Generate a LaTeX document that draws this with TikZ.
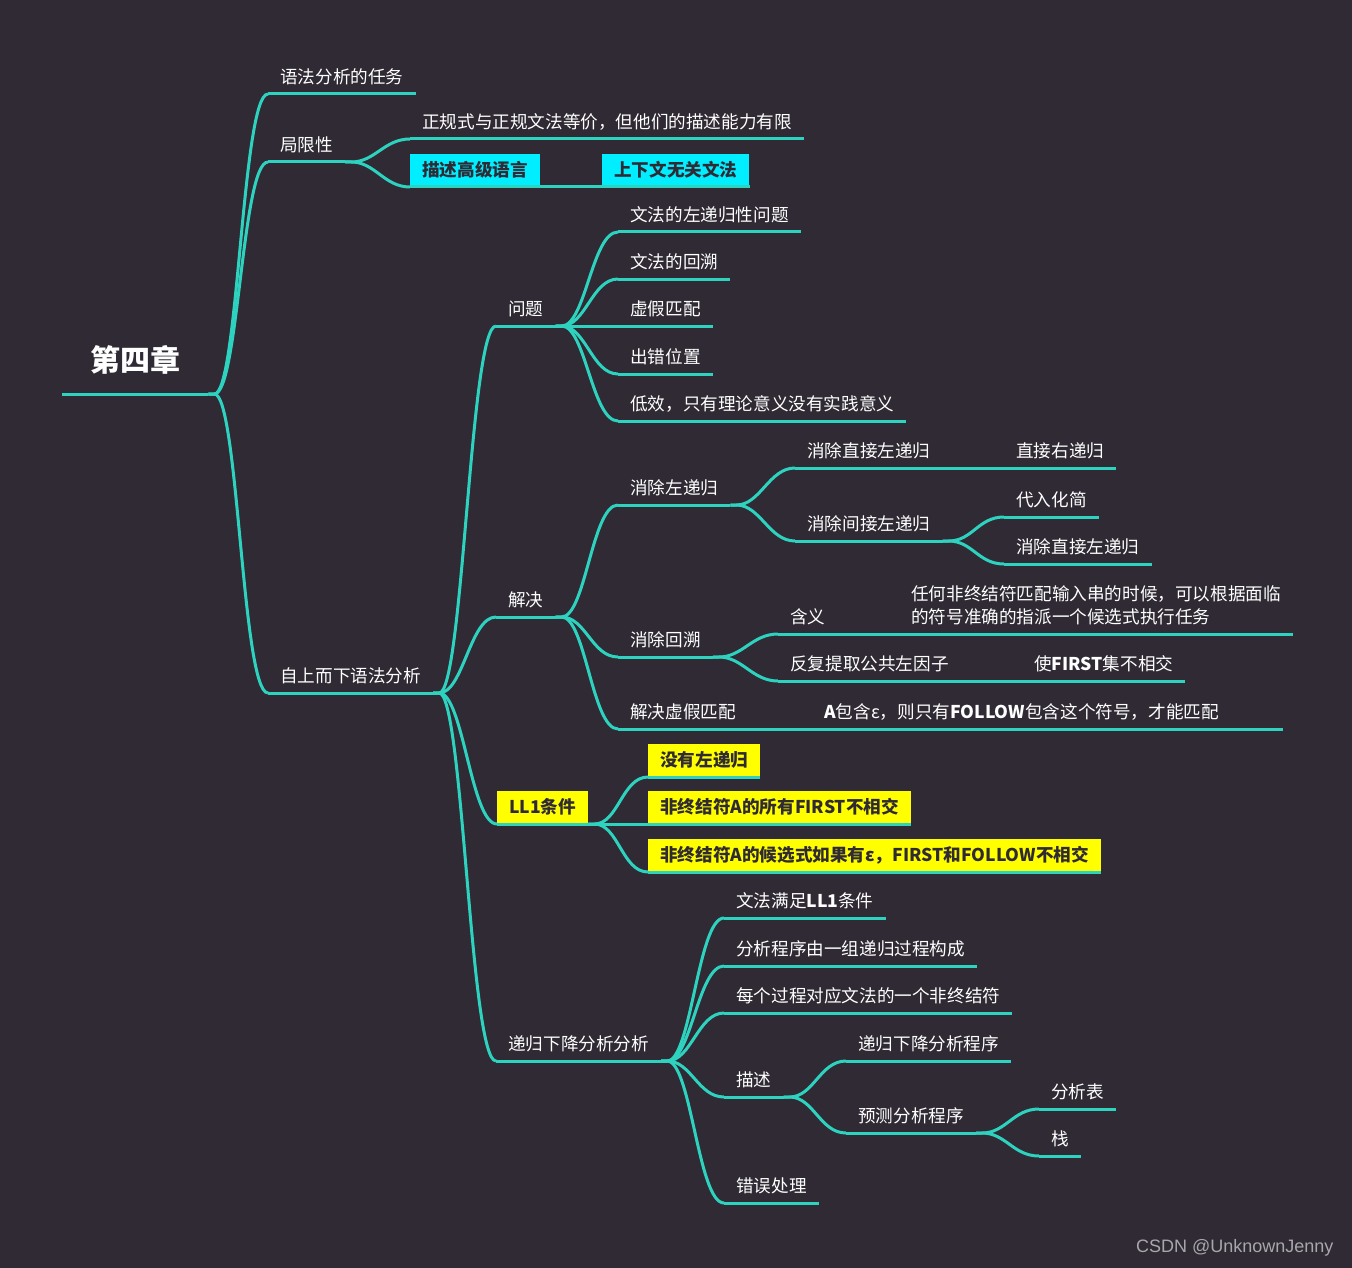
\documentclass[tikz,border=0pt]{standalone}
\usepackage{fontspec}
\setmainfont{Noto Sans CJK SC}
\newfontfamily\markfont{Liberation Sans}
\definecolor{bgdark}{HTML}{2F2A34}
\definecolor{mapline}{HTML}{2ED3BF}
\definecolor{boxcyan}{HTML}{00EEFF}
\definecolor{boxyellow}{HTML}{FFFF00}
\definecolor{boxtext}{HTML}{2F2A34}
\definecolor{marktext}{HTML}{A8A8AC}

\begin{document}
\begin{tikzpicture}[
  x=1pt, y=-1pt,
  topic/.style={anchor=south west, inner xsep=12pt, inner ysep=8pt, text height=15pt, text depth=2pt,
    text=white, font=\fontsize{17.6}{23}\selectfont},
  tagbox/.style={topic, fill=#1, text=boxtext, font=\fontsize{17.6}{23}\selectfont\bfseries},
  note/.style={anchor=south west, inner xsep=12pt, inner ysep=8.5pt, align=left,
    text=white, font=\fontsize{17.6}{23}\selectfont},
  rootnode/.style={anchor=south west, inner xsep=28pt, inner ysep=19pt, text height=26pt, text depth=3pt,
    text=white, font=\fontsize{30}{36}\selectfont\bfseries},
  branch/.style={draw=mapline, line width=3pt},
]
\fill[bgdark] (0,0) rectangle (1352,1268);
\useasboundingbox (0,0) rectangle (1352,1268);

% === root ===
\node[rootnode] (root) at (62,394) {第四章};

% === first level ===
\node[topic] (task) at (268,94) {语法分析的任务};
\node[topic] (limit) at (268,162) {局限性};
\node[topic] (topdown) at (268,693) {自上而下语法分析};

% === 局限性 ===
\node[topic] (regular) at (410,139) {正规式与正规文法等价，但他们的描述能力有限};
\node[tagbox=boxcyan] (highlevel) at (410,187) {描述高级语言};
\node[tagbox=boxcyan] (cfg) at (602,187) {上下文无关文法};

% === 问题 ===
\node[topic] (problem) at (496,326) {问题};
\node[topic] (p1) at (618,232) {文法的左递归性问题};
\node[topic] (p2) at (618,279) {文法的回溯};
\node[topic] (p3) at (618,326) {虚假匹配};
\node[topic] (p4) at (618,374) {出错位置};
\node[topic] (p5) at (618,421) {低效，只有理论意义没有实践意义};

% === 解决 ===
\node[topic] (solve) at (496,617) {解决};
\node[topic] (leftrec) at (618,505) {消除左递归};
\node[topic] (direct) at (795,468) {消除直接左递归};
\node[topic] (rightrec) at (1004,468) {直接右递归};
\node[topic] (indirect) at (795,541) {消除间接左递归};
\node[topic] (subst) at (1004,517) {代入化简};
\node[topic] (direct2) at (1004,564) {消除直接左递归};
\node[topic] (backtrack) at (618,657) {消除回溯};
\node[topic] (meaning) at (778,634) {含义};
\node[note] (meaningtext) at (899,634) {任何非终结符匹配输入串的时候，可以根据面临\\的符号准确的指派一个候选式执行任务};
\node[topic] (factor) at (778,681) {反复提取公共左因子};
\node[topic] (disjoint) at (1022,681) {使\textbf{FIRST}集不相交};
\node[topic] (fake) at (618,729) {解决虚假匹配};
\node[topic, text width=447pt, align=left] (follow) at (812,729) {\textbf{A}包含ε，则只有\textbf{FOLLOW}包含这个符号，才能匹配};

% === LL1条件 ===
\node[tagbox=boxyellow] (ll1) at (497,824) {LL1条件};
\node[tagbox=boxyellow] (c1) at (648,777) {没有左递归};
\node[tagbox=boxyellow] (c2) at (648,824) {非终结符A的所有FIRST不相交};
\node[tagbox=boxyellow] (c3) at (648,872) {非终结符A的候选式如果有ε，FIRST和FOLLOW不相交};

% === 递归下降分析 ===
\node[topic] (rd) at (496,1061) {递归下降分析分析};
\node[topic] (r1) at (724,918) {文法满足\textbf{LL1}条件};
\node[topic] (r2) at (724,966) {分析程序由一组递归过程构成};
\node[topic] (r3) at (724,1013) {每个过程对应文法的一个非终结符};
\node[topic] (desc) at (724,1097) {描述};
\node[topic] (rdprog) at (846,1061) {递归下降分析程序};
\node[topic] (pred) at (846,1133) {预测分析程序};
\node[topic] (table) at (1039,1109) {分析表};
\node[topic] (stack) at (1039,1156) {栈};
\node[topic] (err) at (724,1203) {错误处理};

% underlines
\foreach \n in {root,task,limit,topdown,regular,highlevel,cfg,problem,p1,p2,p3,p4,p5,
  solve,leftrec,direct,rightrec,indirect,subst,direct2,backtrack,meaning,meaningtext,
  factor,disjoint,fake,follow,ll1,c1,c2,c3,rd,r1,r2,r3,desc,rdprog,pred,table,stack,err}
  \draw[branch] (\n.south west) -- (\n.south east);

% connectors
\foreach \a/\b in {root/task,root/limit,root/topdown,limit/regular,limit/highlevel,highlevel/cfg,
  topdown/problem,topdown/solve,topdown/ll1,topdown/rd,
  problem/p1,problem/p2,problem/p3,problem/p4,problem/p5,
  solve/leftrec,solve/backtrack,solve/fake,leftrec/direct,leftrec/indirect,direct/rightrec,
  indirect/subst,indirect/direct2,backtrack/meaning,backtrack/factor,meaning/meaningtext,
  factor/disjoint,fake/follow,ll1/c1,ll1/c2,ll1/c3,
  rd/r1,rd/r2,rd/r3,rd/desc,rd/err,desc/rdprog,desc/pred,pred/table,pred/stack}
  \draw[branch] (\a.south east) -- ++(6,0) .. controls +(24,0) and +(-26,0) .. (\b.south west);

\node[font=\markfont\fontsize{18}{21}\selectfont, text=marktext, anchor=east] (mark) at (1337,1248) {CSDN @UnknownJenny};
\end{tikzpicture}
\end{document}
